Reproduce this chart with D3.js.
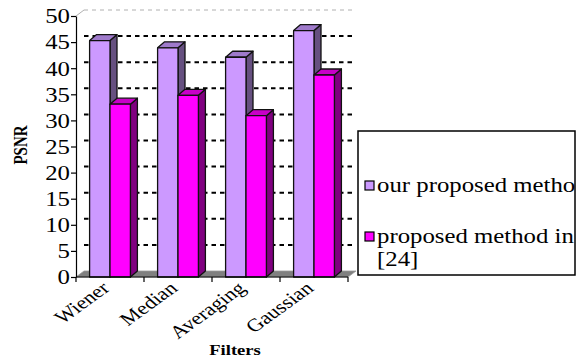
<!DOCTYPE html>
<html>
<head>
<meta charset="utf-8">
<script src="https://cdn.jsdelivr.net/npm/d3@7"></script>
<style>
  html, body { margin: 0; padding: 0; background: #fff; }
  svg { display: block; font-family: "Liberation Serif", "Times New Roman", serif; }
</style>
</head>
<body>
<svg id="chart" width="579" height="363"></svg>
<script>
// PSNR per filter for the two methods
const categories = ["Wiener", "Median", "Averaging", "Gaussian"];
const seriesNames = ["our proposed metho", "proposed method in [24]"];
const ourMethod = [45.3, 43.9, 42.1, 47.2];
const methodRef24 = [33.1, 34.8, 30.9, 38.7];
const yTicks = [0, 5, 10, 15, 20, 25, 30, 35, 40, 45, 50];
const legendLines = [["our proposed metho"], ["proposed method in", "[24]"]];

const seriesValues = [ourMethod, methodRef24];
const faceColors = [
  { front: "#CC99FF", top: "#9F7ACB", side: "#665080" },
  { front: "#FF00FF", top: "#C800C8", side: "#800080" }
];

// text in this chart is drawn slightly widened
const sx = 1.24;

const svg = d3.select("#chart");

// plot frame (front plane) and 3-D depth offset of the back wall
const plotL = 76, plotR = 348, plotB = 277, plotT = 16;
const depthX = 8, depthY = -6;
const barDepthX = 7, barDepthY = -6;

const x = d3.scaleBand().domain(categories).range([plotL, plotR]).paddingInner(0).paddingOuter(0);
const xInner = d3.scaleBand().domain(d3.range(seriesNames.length))
  .range([x.bandwidth() * 0.2, x.bandwidth() * 0.8]).padding(0);
const y = d3.scaleLinear().domain([0, 50]).range([plotB, plotT]);

// floor
svg.append("path")
  .attr("d", `M${plotL},${plotB} L${plotR},${plotB} L${plotR + depthX},${plotB + depthY} L${plotL + depthX},${plotB + depthY} Z`)
  .attr("fill", "#808080").attr("stroke", "#9a9a9a").attr("stroke-width", 0.8);

// back-wall gridlines
const grid = svg.append("g");
yTicks.filter(v => v > 0).forEach(v => {
  const gy = y(v) + depthY;
  const isTop = v === 50;
  grid.append("line")
    .attr("x1", plotL + depthX).attr("x2", plotR + depthX - 1)
    .attr("y1", gy).attr("y2", gy)
    .attr("stroke", isTop ? "#b0b0b0" : "#000")
    .attr("stroke-width", isTop ? 1 : 2)
    .attr("stroke-dasharray", isTop ? "4,4" : "4.5,4");
});
// left wall top edge
svg.append("line")
  .attr("x1", plotL).attr("y1", plotT).attr("x2", plotL + depthX).attr("y2", plotT + depthY)
  .attr("stroke", "#b0b0b0").attr("stroke-width", 1);

// 3-D bars
const bars = svg.append("g").attr("stroke", "#111").attr("stroke-width", 1.3).attr("stroke-linejoin", "round");
categories.forEach((cat, ci) => {
  seriesValues.forEach((vals, si) => {
    const x0 = x(cat) + xInner(si);
    const w = xInner.bandwidth();
    const y0 = y(vals[ci]);
    const c = faceColors[si];
    const g = bars.append("g");
    // side face
    g.append("path")
      .attr("d", `M${x0 + w},${plotB} L${x0 + w + barDepthX},${plotB + barDepthY} L${x0 + w + barDepthX},${y0 + barDepthY} L${x0 + w},${y0} Z`)
      .attr("fill", c.side);
    // top face
    g.append("path")
      .attr("d", `M${x0},${y0} L${x0 + barDepthX},${y0 + barDepthY} L${x0 + w + barDepthX},${y0 + barDepthY} L${x0 + w},${y0} Z`)
      .attr("fill", c.top);
    // front face
    g.append("rect")
      .attr("x", x0).attr("y", y0).attr("width", w).attr("height", plotB - y0)
      .attr("fill", c.front);
  });
});

// value axis
const yAxis = d3.axisLeft(y).tickValues(yTicks).tickSize(5).tickSizeOuter(0).tickPadding(2);
const ya = svg.append("g").attr("transform", `translate(${plotL},0)`).call(yAxis);
ya.select(".domain").attr("stroke", "#000").attr("stroke-width", 1.2);
ya.selectAll(".tick line").attr("stroke", "#000").attr("stroke-width", 1.2);
ya.selectAll(".tick text")
  .attr("font-size", 20).attr("font-family", "Liberation Serif").attr("fill", "#000")
  .attr("x", -6 / sx).attr("dy", "0.34em")
  .attr("transform", `scale(${sx},1)`);

// category axis line and boundary ticks
svg.append("line").attr("x1", plotL).attr("x2", plotR).attr("y1", plotB).attr("y2", plotB)
  .attr("stroke", "#000").attr("stroke-width", 1.2);
const bounds = categories.map(c => x(c)).concat([plotR]);
svg.append("g").selectAll("line").data(bounds).join("line")
  .attr("x1", d => d).attr("x2", d => d).attr("y1", plotB).attr("y2", plotB + 5)
  .attr("stroke", "#000").attr("stroke-width", 1.2);

// rotated category labels
svg.append("g").selectAll("text").data(categories).join("text")
  .attr("transform", d => `translate(${x(d) + x.bandwidth() / 2 - 10},${plotB + 3}) scale(${sx},1) rotate(-42)`)
  .attr("text-anchor", "end")
  .attr("dy", "0.72em")
  .attr("font-size", 18)
  .text(d => d);

// axis titles
svg.append("text")
  .attr("transform", `translate(27,145) scale(${sx},1) rotate(-90)`)
  .attr("text-anchor", "middle").attr("font-size", 15).attr("font-weight", "bold")
  .text("PSNR");
svg.append("text")
  .attr("transform", `translate(235,355) scale(${sx},1)`)
  .attr("text-anchor", "middle").attr("font-size", 15).attr("font-weight", "bold")
  .text("Filters");

// legend
const lg = svg.append("g");
lg.append("rect").attr("x", 358).attr("y", 131).attr("width", 217).attr("height", 144)
  .attr("fill", "#fff").attr("stroke", "#000").attr("stroke-width", 1.5);
const entryBaselines = [192, 243];
legendLines.forEach((lines, i) => {
  const by = entryBaselines[i];
  lg.append("rect").attr("x", 365).attr("y", by - 11).attr("width", 9).attr("height", 9)
    .attr("fill", faceColors[i].front).attr("stroke", "#000").attr("stroke-width", 1.2);
  const t = lg.append("text").attr("transform", `translate(377,${by}) scale(${sx},1)`).attr("font-size", 20);
  lines.forEach((ln, k) => {
    t.append("tspan").attr("x", 0).attr("y", k * 23).text(ln);
  });
});
</script>
</body>
</html>
